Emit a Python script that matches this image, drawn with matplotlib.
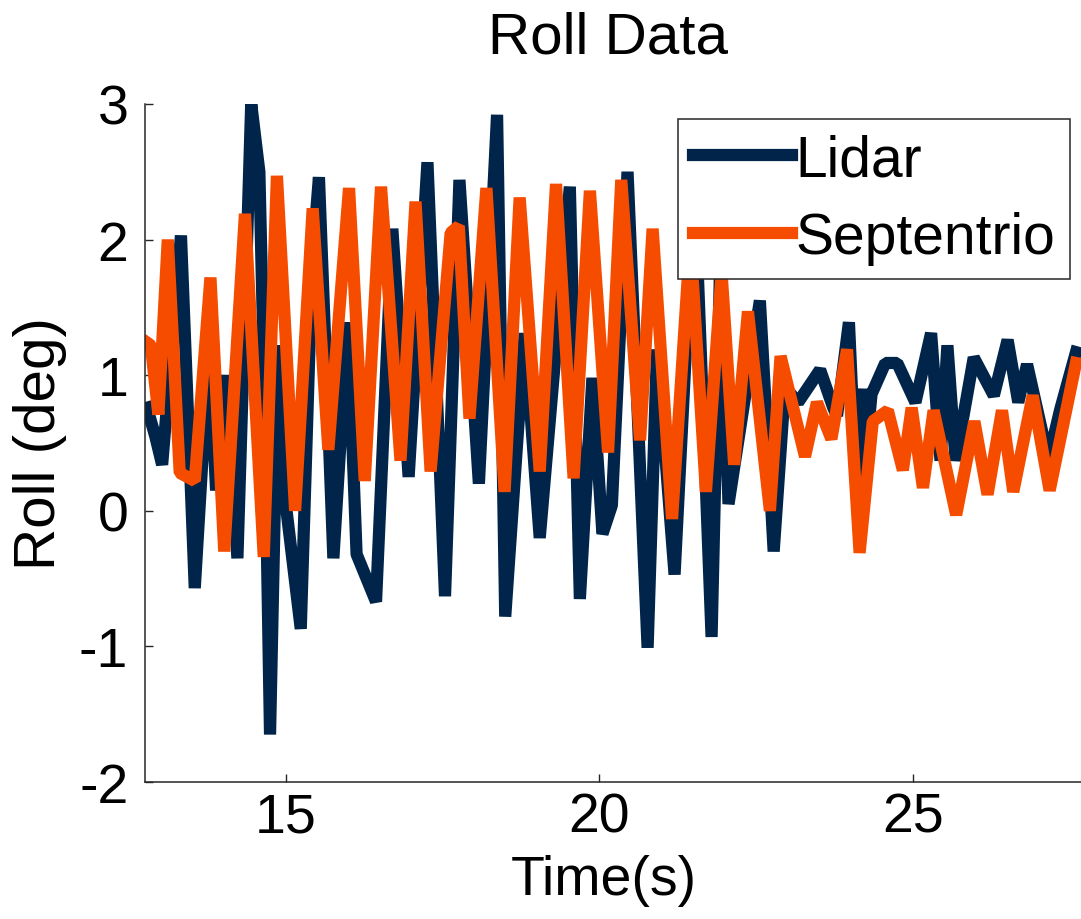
import matplotlib
matplotlib.use("Agg")
import matplotlib.pyplot as plt

plt.rcParams['font.family'] = ['Liberation Sans', 'DejaVu Sans']
plt.rcParams['axes.unicode_minus'] = False

# values (time in s, roll in deg)
lidar_t = [12.79, 12.92, 13.03, 13.33, 13.55, 13.78, 13.89, 14.05, 14.23, 14.45,
           14.58, 14.65, 14.75, 14.88, 14.99, 15.24, 15.42, 15.53, 15.76, 15.99,
           16.13, 16.44, 16.70, 16.96, 17.26, 17.54, 17.77, 18.08, 18.37, 18.50,
           18.81, 19.05, 19.53, 19.69, 19.89, 20.05, 20.20, 20.45, 20.77, 20.92,
           21.20, 21.42, 21.55, 21.79, 21.93, 22.06, 22.56, 22.78, 22.96, 23.17,
           23.52, 23.73, 23.79, 23.98, 24.10, 24.19, 24.22, 24.34, 24.56, 24.75,
           25.04, 25.29, 25.44, 25.55, 25.68, 25.97, 26.29, 26.51, 26.68, 26.82,
           27.16, 27.35, 27.60]
lidar_roll = [0.76, 0.55, 0.34, 2.03, -0.57, 1.22, 0.15, 1.00, -0.35, 3.00,
              2.50, 1.10, -1.65, 1.22, 0.09, -0.87, 1.82, 2.46, -0.35, 1.39,
              -0.32, -0.67, 2.08, 0.25, 2.57, -0.63, 2.44, 0.20, 2.92, -0.78,
              1.31, -0.20, 2.39, -0.65, 0.98, -0.17, 0.04, 2.50, -1.01, 1.19,
              -0.47, 1.54, 2.00, -0.93, 1.90, 0.05, 1.55, -0.30, 0.91, 0.80,
              1.04, 0.76, 0.70, 1.39, 0.15, 0.90, 0.25, 0.86, 1.09, 1.09,
              0.80, 1.31, 0.37, 1.22, 0.37, 1.13, 0.85, 1.26, 0.80, 1.08,
              0.38, 0.75, 1.17]

sept_t = [12.79, 12.85, 12.97, 13.12, 13.31, 13.55, 13.80, 14.02, 14.35, 14.65,
          14.86, 15.15, 15.43, 15.68, 16.01, 16.26, 16.52, 16.83, 17.07, 17.31,
          17.63, 17.76, 17.93, 18.20, 18.49, 18.73, 19.05, 19.31, 19.59, 19.85,
          20.14, 20.35, 20.65, 20.85, 21.16, 21.45, 21.70, 21.95, 22.15, 22.37,
          22.72, 22.89, 23.28, 23.47, 23.70, 23.95, 24.15, 24.36, 24.60, 24.84,
          24.98, 25.16, 25.33, 25.69, 25.98, 26.19, 26.42, 26.60, 26.91, 27.18,
          27.60]
sept_roll = [1.24, 1.22, 0.71, 2.00, 0.28, 0.22, 1.72, -0.30, 2.19, -0.34,
             2.47, 0.00, 2.23, 0.45, 2.38, 0.22, 2.39, 0.37, 2.28, 0.29,
             2.05, 2.10, 0.68, 2.38, 0.14, 2.31, 0.29, 2.41, 0.24, 2.36,
             0.43, 2.44, 0.52, 2.08, -0.06, 2.00, 0.14, 1.75, 0.34, 1.47,
             0.00, 1.14, 0.40, 0.80, 0.53, 1.19, -0.31, 0.66, 0.74, 0.30,
             0.76, 0.17, 0.74, -0.03, 0.66, 0.12, 0.74, 0.14, 0.85, 0.15,
             1.09]

x_ticks = [15, 20, 25]
y_ticks = [-2, -1, 0, 1, 2, 3]

fig = plt.figure(figsize=(10.81, 9.2), dpi=100)
ax = fig.add_axes([0.1341, 0.1489, 0.8659, 0.737])

ax.plot(lidar_t, lidar_roll, color='#00244a', lw=8.8, solid_joinstyle='bevel', label='Lidar')
ax.plot(sept_t, sept_roll, color='#f64c00', lw=8.8, solid_joinstyle='bevel', label='Septentrio')

ax.set_xlim(12.756, 27.68)
ax.set_ylim(-2, 3)
ax.set_xticks(x_ticks)
ax.set_yticks(y_ticks)

for s in ['top', 'right']:
    ax.spines[s].set_visible(False)
for s in ['left', 'bottom']:
    ax.spines[s].set_color('#262626')
    ax.spines[s].set_linewidth(1.1)

ax.tick_params(axis='both', direction='in', length=6, width=1.0, color='#262626', labelsize=40)
ax.tick_params(axis='x', pad=7)
ax.tick_params(axis='y', pad=12)

ax.set_title("Roll Data", fontsize=42, x=0.495, pad=37.4)
ax.set_xlabel("Time(s)", fontsize=40)
ax.xaxis.set_label_coords(0.49, -0.106)
ax.set_ylabel("Roll (deg)", fontsize=42)
ax.yaxis.set_label_coords(-0.083, 0.5)

leg = ax.legend(loc='upper right', bbox_to_anchor=(0.988, 0.978), borderaxespad=0,
                fontsize=41, handlelength=1.74, handletextpad=0.07, labelspacing=0.42,
                borderpad=0.25, fancybox=False, framealpha=1, edgecolor='#262626')
leg.get_frame().set_linewidth(1.1)

fig.savefig("out.png", dpi=100)
